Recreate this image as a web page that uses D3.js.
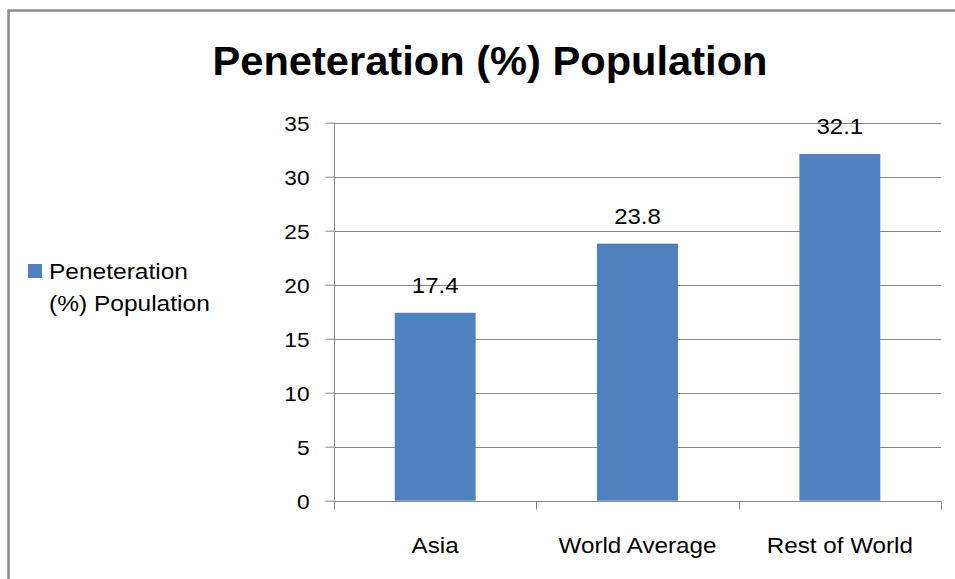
<!DOCTYPE html>
<html>
<head>
<meta charset="utf-8">
<script src="https://cdn.jsdelivr.net/npm/d3@7"></script>
<style>
  html, body { margin: 0; padding: 0; background: #fff; }
  svg { display: block; }
  text { font-family: "Liberation Sans", Arial, sans-serif; fill: #000; }
</style>
</head>
<body>
<svg id="chart" width="955" height="579"></svg>
<script>
const categories = ["Asia", "World Average", "Rest of World"];
const values = [17.4, 23.8, 32.1];
const yTicks = [0, 5, 10, 15, 20, 25, 30, 35];
const seriesName = "Peneteration (%) Population";
const titleText = "Peneteration (%) Population";

const svg = d3.select("#chart");
const W = 955, H = 579;
const plot = { left: 334, right: 941, top: 122.7, bottom: 500.7 };
const barColor = "#4F81BD";
const gridColor = "#868686";

function stretch(sel, f) {
  sel.each(function () {
    const len = this.getComputedTextLength();
    d3.select(this).attr("textLength", len * f).attr("lengthAdjust", "spacingAndGlyphs");
  });
}

// outer chart border
svg.append("rect")
  .attr("x", 8.5).attr("y", 10.5)
  .attr("width", W + 20).attr("height", H + 20)
  .attr("fill", "#fff").attr("stroke", "#8a8a8a").attr("stroke-width", 2.5);

const x = d3.scaleBand().domain(categories).range([plot.left, plot.right]).paddingInner(0.6).paddingOuter(0.3);
const xOuter = d3.scaleBand().domain(categories).range([plot.left, plot.right]);
const y = d3.scaleLinear().domain([0, 35]).range([plot.bottom, plot.top]);

// gridlines
svg.append("g").selectAll("line").data(yTicks.filter(d => d > 0)).join("line")
  .attr("x1", plot.left).attr("x2", plot.right)
  .attr("y1", d => Math.round(y(d)) + 0.5).attr("y2", d => Math.round(y(d)) + 0.5)
  .attr("stroke", gridColor).attr("stroke-width", 1);

// bars
svg.append("g").selectAll("rect").data(values).join("rect")
  .attr("x", (d, i) => x(categories[i]))
  .attr("width", x.bandwidth())
  .attr("y", d => y(d))
  .attr("height", d => y(0) - y(d))
  .attr("fill", barColor);

// y axis
const yAxis = d3.axisLeft(y).tickValues(yTicks).tickSize(9).tickPadding(16).tickFormat(d3.format("d"));
const gy = svg.append("g").attr("transform", `translate(${plot.left + 0.5},0)`).call(yAxis);
gy.select(".domain").attr("stroke", gridColor).attr("d", `M0,${plot.top}V${plot.bottom}`);
gy.selectAll(".tick line").attr("stroke", gridColor);
gy.selectAll(".tick text").attr("font-size", 21).attr("font-family", "Liberation Sans, Arial, sans-serif").attr("fill", "#000").attr("dy", "0.36em");
stretch(gy.selectAll(".tick text"), 1.08);

// x axis
const gx = svg.append("g").attr("transform", `translate(0,${Math.round(plot.bottom) + 0.5})`);
gx.append("line").attr("x1", plot.left).attr("x2", plot.right).attr("stroke", gridColor);
const bounds = categories.map(c => xOuter(c)).concat([plot.right]);
gx.selectAll("line.tk").data(bounds).join("line").attr("class", "tk")
  .attr("x1", d => Math.round(d) + 0.5).attr("x2", d => Math.round(d) + 0.5)
  .attr("y1", 0).attr("y2", 8).attr("stroke", gridColor);
const catText = gx.selectAll("text").data(categories).join("text")
  .attr("x", d => xOuter(d) + xOuter.bandwidth() / 2)
  .attr("y", 51)
  .attr("text-anchor", "middle")
  .attr("font-size", 22)
  .text(d => d);
stretch(catText, 1.1);

// value labels
const valText = svg.append("g").selectAll("text").data(values).join("text")
  .attr("x", (d, i) => x(categories[i]) + x.bandwidth() / 2)
  .attr("y", d => y(d) - 20)
  .attr("text-anchor", "middle")
  .attr("font-size", 22)
  .text(d => d.toFixed(1));
stretch(valText, 1.09);

// title
svg.append("text")
  .attr("x", 490).attr("y", 75)
  .attr("text-anchor", "middle")
  .attr("font-size", 40).attr("font-weight", "bold")
  .attr("textLength", 555).attr("lengthAdjust", "spacingAndGlyphs")
  .text(titleText);

// legend
const lg = svg.append("g");
lg.append("rect").attr("x", 28).attr("y", 264).attr("width", 14).attr("height", 14).attr("fill", barColor);
const words = seriesName.split(" ");
const lines = [words[0], words.slice(1).join(" ")];
const lgText = lg.selectAll("text").data(lines).join("text")
  .attr("x", 49).attr("y", (d, i) => 279 + i * 32)
  .attr("font-size", 21.5)
  .text(d => d);
stretch(lgText, 1.14);
</script>
</body>
</html>
